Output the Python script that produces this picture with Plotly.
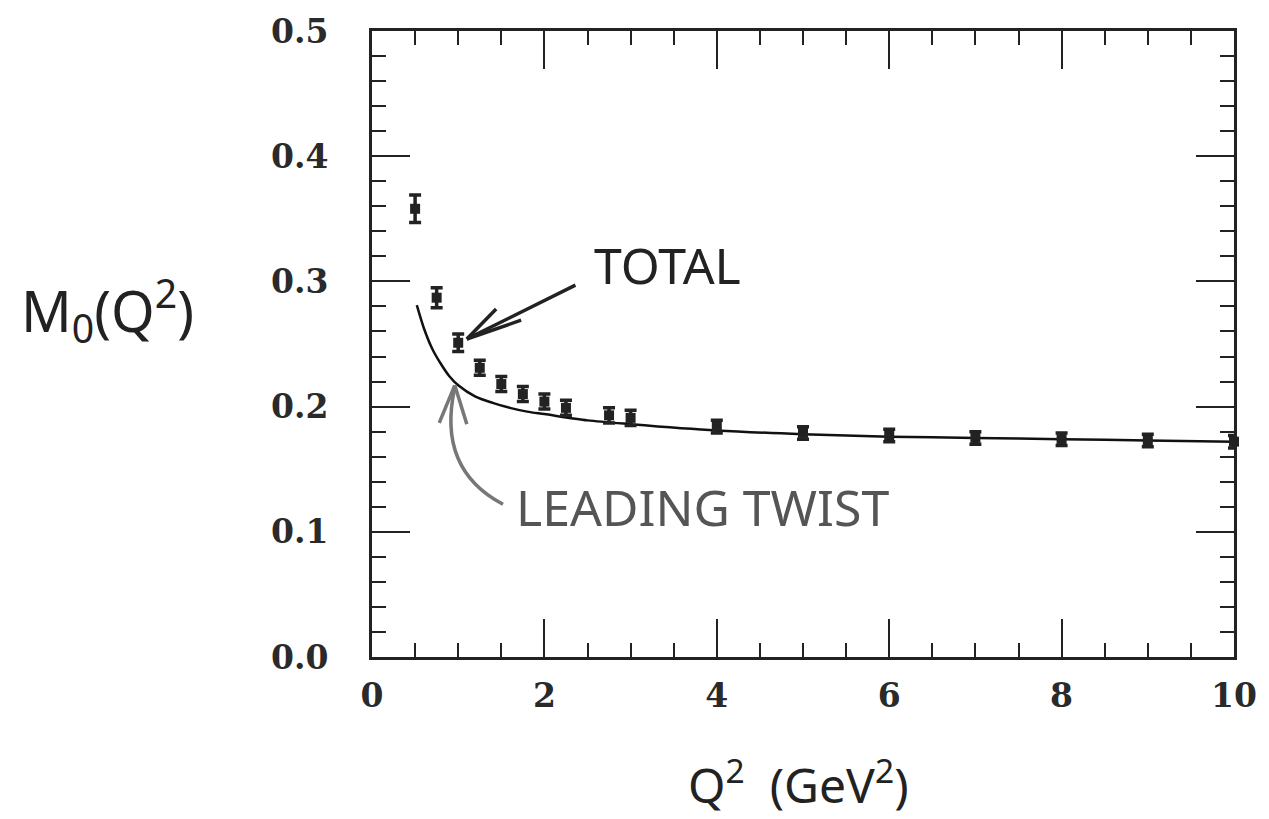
import plotly.graph_objects as go

# Data points (Q^2 in GeV^2, M0 values, errors)
q2_data = [0.5, 0.75, 1.0, 1.25, 1.5, 1.75, 2.0, 2.25, 2.75, 3.0, 4, 5, 6, 7, 8, 9, 10]
m0_data = [0.358, 0.287, 0.251, 0.231, 0.218, 0.210, 0.204, 0.199, 0.193, 0.191,
           0.184, 0.179, 0.177, 0.175, 0.174, 0.173, 0.172]
m0_err = [0.011, 0.008, 0.007, 0.006, 0.006, 0.006, 0.006, 0.006, 0.006, 0.006,
          0.005, 0.005, 0.005, 0.005, 0.005, 0.005, 0.005]

# Leading twist curve
q2_curve = [0.52, 0.6, 0.7, 0.8, 0.9, 1.0, 1.2, 1.4, 1.6, 1.8, 2.0, 2.5, 3.0,
            4, 5, 6, 7, 8, 9, 10]
m0_curve = [0.281, 0.263, 0.246, 0.234, 0.224, 0.217, 0.208, 0.203, 0.199, 0.196,
            0.194, 0.189, 0.186, 0.181, 0.178, 0.176, 0.175, 0.174, 0.173, 0.172]

x_ticks = [0, 2, 4, 6, 8, 10]
y_ticks = [0.0, 0.1, 0.2, 0.3, 0.4, 0.5]

fig = go.Figure()
fig.add_trace(go.Scatter(x=q2_curve, y=m0_curve, mode="lines",
                         line=dict(color="#111", width=2.5, shape="spline", smoothing=0.8),
                         showlegend=False, cliponaxis=False))
fig.add_trace(go.Scatter(x=q2_data, y=m0_data, mode="markers",
                         marker=dict(symbol="square", size=10, color="#222"),
                         error_y=dict(type="data", array=m0_err, color="#222",
                                      thickness=3.5, width=6),
                         showlegend=False, cliponaxis=False))

tickfont = dict(family="DejaVu Serif", size=33, color="#2a2a2a", weight="bold")
axis_common = dict(showline=True, linecolor="#222", linewidth=3, mirror="allticks",
                   ticks="inside", ticklen=38, tickwidth=2, tickcolor="#222",
                   showgrid=False, zeroline=False, tickfont=tickfont)

fig.update_xaxes(range=[0, 10], tickvals=x_ticks, ticktext=[str(v) for v in x_ticks],
                 minor=dict(dtick=0.5, ticks="inside", ticklen=14, tickwidth=2,
                            tickcolor="#222", showgrid=False),
                 ticklabelstandoff=7, **axis_common)
fig.update_yaxes(range=[0, 0.5], tickvals=y_ticks, ticktext=[f"{v:.1f}" for v in y_ticks],
                 minor=dict(dtick=0.02, ticks="inside", ticklen=14, tickwidth=2,
                            tickcolor="#222", showgrid=False),
                 ticklabelstandoff=34, **axis_common)

hand = "Noto Sans"
annotations = [
    dict(text="Q<sup>2</sup>  (GeV<sup>2</sup>)", xref="paper", yref="paper", x=0.495, y=-0.2,
         xanchor="center", yanchor="middle", showarrow=False,
         font=dict(family=hand, size=48, color="#222")),
    dict(text="M<sub>0</sub>(Q<sup>2</sup>)", xref="paper", yref="paper", x=-0.41, y=0.555,
         xanchor="left", yanchor="middle", showarrow=False,
         font=dict(family=hand, size=56, color="#222")),
    dict(text="TOTAL", x=2.55, y=0.313, xref="x", yref="y", xanchor="left",
         yanchor="middle", showarrow=False,
         font=dict(family=hand, size=50, color="#222")),
    dict(text="LEADING TWIST", x=1.65, y=0.12, xref="x", yref="y", xanchor="left",
         yanchor="middle", showarrow=False,
         font=dict(family=hand, size=50, color="#555")),
]
fig.update_layout(annotations=annotations)

# TOTAL arrow
dark = dict(color="#222", width=3.5)
fig.add_shape(type="line", x0=2.36, y0=0.297, x1=1.1, y1=0.254, xref="x", yref="y", line=dark)
fig.add_shape(type="line", x0=1.1, y0=0.254, x1=1.44, y1=0.278, xref="x", yref="y", line=dark)
fig.add_shape(type="line", x0=1.1, y0=0.254, x1=1.73, y1=0.269, xref="x", yref="y", line=dark)

# LEADING TWIST arrow (curved, grey)
grey = dict(color="#777", width=3.5)
fig.add_shape(type="path", path="M 1.52,0.122 Q 0.75,0.15 0.96,0.215",
              xref="x", yref="y", line=grey)
fig.add_shape(type="line", x0=0.96, y0=0.217, x1=0.78, y1=0.187, xref="x", yref="y", line=grey)
fig.add_shape(type="line", x0=0.96, y0=0.217, x1=1.1, y1=0.186, xref="x", yref="y", line=grey)

fig.update_layout(width=1269, height=819, margin=dict(l=372, r=24, t=28, b=162),
                  plot_bgcolor="white", paper_bgcolor="white")

fig.write_html("out.html")
